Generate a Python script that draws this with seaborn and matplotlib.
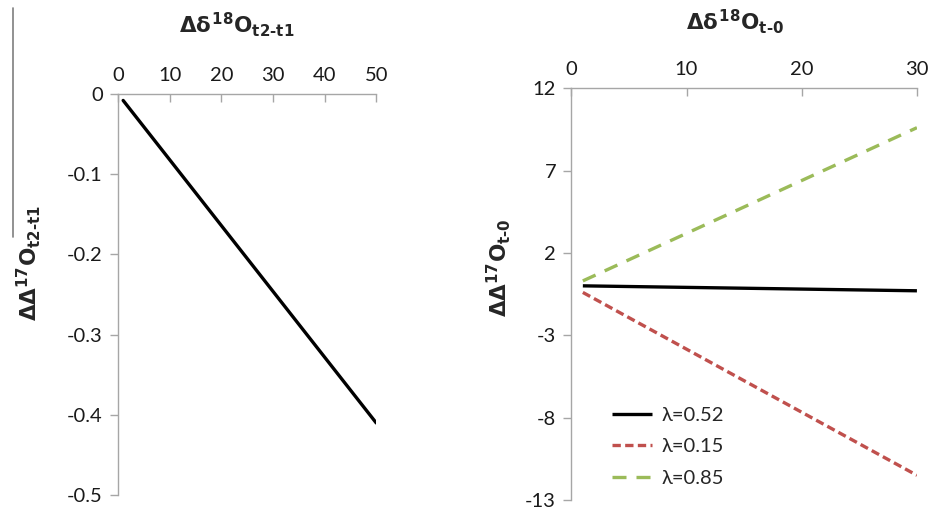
import matplotlib
matplotlib.use("Agg")
import matplotlib.pyplot as plt
import seaborn as sns
import pandas as pd
from matplotlib.lines import Line2D

# ---- data ----
left_x = [1, 50]
left_y = [-0.008, -0.41]
left_xticks = [0, 10, 20, 30, 40, 50]
left_yticks = [0, -0.1, -0.2, -0.3, -0.4, -0.5]

right_x = [1, 30]
lam052 = [0.0, -0.3]
lam015 = [-0.4, -11.5]
lam085 = [0.3, 9.6]
right_xticks = [0, 10, 20, 30]
right_yticks = [12, 7, 2, -3, -8, -13]
series_names = ["λ=0.52", "λ=0.15", "λ=0.85"]

sns.set_theme(style="white")
plt.rcParams['font.family'] = ['Lato', 'DejaVu Sans']
plt.rcParams['axes.unicode_minus'] = False
plt.rcParams['mathtext.fontset'] = 'custom'
plt.rcParams['mathtext.rm'] = 'DejaVu Sans:bold'
plt.rcParams['mathtext.it'] = 'DejaVu Sans:bold'
plt.rcParams['mathtext.bf'] = 'DejaVu Sans:bold'
plt.rcParams['mathtext.sf'] = 'DejaVu Sans:bold'

fig = plt.figure(figsize=(9.29, 5.11), dpi=100)
ax1 = fig.add_axes([0.127, 0.031, 0.278, 0.785])
ax2 = fig.add_axes([0.615, 0.0215, 0.372, 0.806])

spine_c = '#A6A6A6'
tick_fs = 14.5

df_left = pd.DataFrame({"x": left_x, "y": left_y})
sns.lineplot(data=df_left, x="x", y="y", ax=ax1, color='black', linewidth=2.4)

df_right = pd.DataFrame({
    "x": right_x * 3,
    "y": lam052 + lam015 + lam085,
    "s": [series_names[0]] * 2 + [series_names[1]] * 2 + [series_names[2]] * 2,
})
palette = {series_names[0]: 'black', series_names[1]: '#C0504D', series_names[2]: '#9BBB59'}
sns.lineplot(data=df_right, x="x", y="y", hue="s", palette=palette, ax=ax2,
             linewidth=2.4, legend=False)
dashes = {series_names[0]: None, series_names[1]: (2.5, 1.3), series_names[2]: (4.2, 3.0)}
lines = ax2.get_lines()[:3]
for line, name in zip(lines, series_names):
    d = dashes[name]
    if d is not None:
        line.set_dashes(d)
    line.set_solid_capstyle('butt')
    line.set_dash_capstyle('butt')

for ax, xt, yt, xlim, ylim in [(ax1, left_xticks, left_yticks, (0, 50), (-0.5, 0)),
                               (ax2, right_xticks, right_yticks, (0, 30), (-13, 12))]:
    ax.set_xlim(*xlim)
    ax.set_ylim(*ylim)
    ax.set_xticks(xt)
    ax.set_yticks(yt)
    ax.set_xticklabels([str(v) for v in xt])
    ax.set_yticklabels([('%g' % v) for v in yt])
    ax.xaxis.tick_top()
    ax.xaxis.set_label_position('top')
    for s in ['right', 'bottom']:
        ax.spines[s].set_visible(False)
    for s in ['left', 'top']:
        ax.spines[s].set_color(spine_c)
        ax.spines[s].set_linewidth(1.0)
    ax.tick_params(axis='x', direction='in', length=6, width=1, color=spine_c,
                   labelsize=tick_fs, pad=7, labelcolor='#1a1a1a')
    ax.tick_params(axis='y', direction='out', length=6, width=1, color=spine_c,
                   labelsize=tick_fs, pad=5, labelcolor='#1a1a1a', left=True)
    ax.grid(False)

lab_fs = 15.5
ax1.set_xlabel(r'$\Delta\delta^{18}$O$_{\text{t2-t1}}$', fontsize=lab_fs, fontweight='bold',
               family='DejaVu Sans')
ax1.xaxis.set_label_coords(0.46, 1.152)
ax1.set_ylabel(r'$\Delta\Delta^{17}$O$_{\text{t2-t1}}$', fontsize=lab_fs, fontweight='bold',
               family='DejaVu Sans')
ax1.yaxis.set_label_coords(-0.29, 0.579)

ax2.set_xlabel(r'$\Delta\delta^{18}$O$_{\text{t-0}}$', fontsize=lab_fs, fontweight='bold',
               family='DejaVu Sans')
ax2.xaxis.set_label_coords(0.474, 1.141)
ax2.set_ylabel(r'$\Delta\Delta^{17}$O$_{\text{t-0}}$', fontsize=lab_fs, fontweight='bold',
               family='DejaVu Sans')
ax2.yaxis.set_label_coords(-0.17, 0.563)

leg = ax2.legend(handles=lines, labels=series_names, loc='lower left',
                 bbox_to_anchor=(0.065, -0.012), frameon=False,
                 fontsize=14.5, handlelength=2.0, handletextpad=0.45, labelspacing=0.72)

fig.add_artist(Line2D([13 / 929, 13 / 929], [1 - 8 / 511, 1 - 237 / 511],
                      transform=fig.transFigure, color='#7F7F7F', linewidth=1.2))

fig.savefig('out.png', dpi=100)
